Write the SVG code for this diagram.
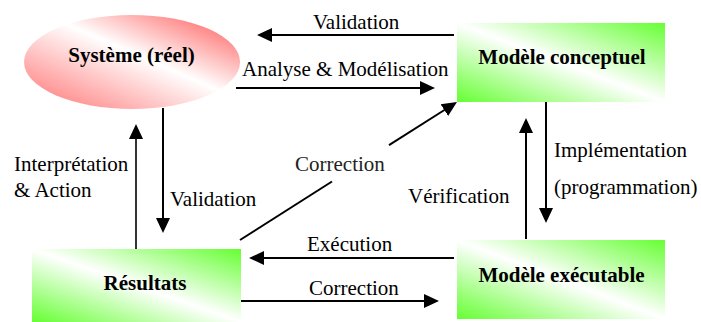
<svg xmlns="http://www.w3.org/2000/svg" width="701" height="322" viewBox="0 0 701 322">
<style>
text{font-family:"Liberation Serif","Times New Roman",serif;font-size:21px;fill:#000}
.node{font-weight:bold;text-anchor:middle}
.c line{stroke:#000;stroke-width:2;marker-end:url(#ah)}
.c line.nm{marker-end:none}
</style>
<defs>
<linearGradient id="gg" x1="0" y1="1" x2="1" y2="0">
<stop offset="0" stop-color="#66ff33"/>
<stop offset="0.5" stop-color="#ffffff"/>
<stop offset="1" stop-color="#66ff33"/>
</linearGradient>
<linearGradient id="rg" x1="0" y1="1" x2="1" y2="0">
<stop offset="0" stop-color="#ff7070"/>
<stop offset="0.55" stop-color="#ffffff"/>
<stop offset="1" stop-color="#ff5050"/>
</linearGradient>
<marker id="ah" markerUnits="userSpaceOnUse" markerWidth="16" markerHeight="16" refX="1" refY="7" orient="auto" viewBox="0 0 16 14">
<path d="M0,0 L15,7 L0,14 z" fill="#000"/>
</marker>
</defs>
<g id="systeme">
<ellipse cx="132" cy="62" rx="108" ry="47" fill="url(#rg)"/>
<text class="node" x="131.5" y="62">Système (réel)</text>
</g>
<g id="modele-conceptuel">
<rect x="457" y="23" width="208" height="79" fill="url(#gg)"/>
<text class="node" x="562" y="64">Modèle conceptuel</text>
</g>
<g id="resultats">
<rect x="32" y="249" width="209" height="73" fill="url(#gg)"/>
<text class="node" x="145" y="290">Résultats</text>
</g>
<g id="modele-executable">
<rect x="457" y="240" width="208" height="79" fill="url(#gg)"/>
<text class="node" x="561.5" y="282">Modèle exécutable</text>
</g>
<g id="connectors" class="c">
<line x1="454" y1="35" x2="271" y2="35"/>
<line x1="236" y1="88" x2="421" y2="88"/>
<line x1="136" y1="249" x2="136" y2="138" style="stroke-width:1.6"/>
<line x1="163" y1="108" x2="163" y2="219"/>
<line x1="526" y1="239" x2="526" y2="132"/>
<line x1="546" y1="102" x2="546" y2="209"/>
<line x1="454" y1="258" x2="263" y2="258"/>
<line x1="241" y1="301" x2="425" y2="301"/>
<line class="nm" x1="240" y1="240" x2="332" y2="181.5"/>
<line x1="389" y1="145.2" x2="445.2" y2="109.5"/>
</g>
<g id="labels">
<text x="313" y="29">Validation</text>
<text x="242" y="76">Analyse &amp; Modélisation</text>
<text x="14" y="171">Interprétation</text>
<text x="14" y="197">&amp; Action</text>
<text x="170" y="206">Validation</text>
<text x="554" y="157">Implémentation</text>
<text x="554" y="194">(programmation)</text>
<text x="408" y="203">Vérification</text>
<text x="295" y="171" style="fill:#222">Correction</text>
<text x="307" y="251">Exécution</text>
<text x="309" y="295">Correction</text>
</g>
</svg>
